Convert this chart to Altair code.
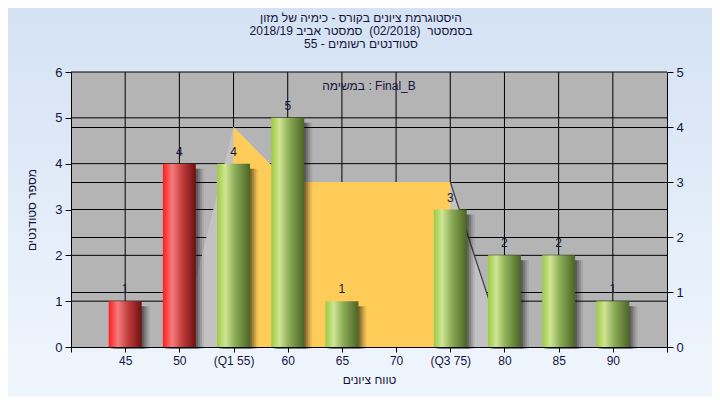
import altair as alt
import pandas as pd

# ---- data ----
grades = [45, 50, 55, 60, 65, 70, 75, 80, 85, 90]
counts = [1, 4, 4, 5, 1, 0, 3, 2, 2, 1]
failing = [True, True, False, False, False, False, False, False, False, False]

tick_values = [40, 45, 50, 55, 60, 65, 70, 75, 80, 85, 90, 95]
tick_labels = ["", "45", "50", "(Q1 55)", "60", "65", "70", "(Q3 75)", "80", "85", "90", ""]

left_ticks = [0, 1, 2, 3, 4, 5, 6]
right_ticks = [0, 1, 2, 3, 4, 5]
left_grid = [1, 2, 3, 4, 5, 6]
right_grid = [1, 2, 3, 4]
vert_grid = [45, 50, 55, 60, 65, 70, 75, 80, 85, 90]

# distribution outline (right axis)
poly_x = [50, 55, 60, 75, 80]
poly_y = [0, 4, 3, 3, 0]
iqr_x = [55, 60, 75]
iqr_y = [4, 3, 3]
tail_x = [75, 80]
tail_y = [3, 0]

NB = "\u00a0"
title_lines = [
    "היסטוגרמת ציונים בקורס - כימיה של מזון",
    f"בסמסטר{NB} (02/2018){NB} סמסטר אביב 2018/19",
    "סטודנטים רשומים - 55",
]
x_title = "טווח ציונים"
y_title = "מספר סטודנטים"
note_text = "במשימה : Final_B"

FONT = "Liberation Sans, DejaVu Sans, sans-serif"
TXT = "#14143c"
W, H = 596, 275
PL, PT, PR, PB = 63, 64, 45, 50

bars = pd.DataFrame({"grade": grades, "count": counts, "fail": failing})
bars = bars[bars["count"] > 0]
one = pd.DataFrame({"a": [0]})

xscale = alt.Scale(domain=[40, 95], nice=False, zero=False, padding=0)
lscale = alt.Scale(domain=[0, 6], nice=False, padding=0)
rscale = alt.Scale(domain=[0, 5], nice=False, padding=0)

label_cond = " : ".join(f"datum.value == {v} ? '{t}'" for v, t in zip(tick_values, tick_labels)) + " : ''"

x_axis = alt.Axis(values=tick_values, labelExpr=label_cond, title=x_title,
                  titleFont=FONT, titleFontSize=12, titleFontWeight="normal", titleColor=TXT,
                  labelFont=FONT, labelFontSize=12, labelColor=TXT, labelPadding=3,
                  tickColor="black", domainColor="black", tickSize=5, grid=False, zindex=1,
                  titlePadding=8, labelFlush=False, labelOverlap=False)
left_axis = alt.Axis(values=left_ticks, title=y_title, orient="left", titleFont=FONT, titleFontSize=12,
                     titleFontWeight="normal", titleColor=TXT, labelFont=FONT, labelFontSize=13,
                     labelColor=TXT, tickColor="black", domainColor="black", tickSize=6, grid=False,
                     zindex=1, titlePadding=16, labelPadding=3)
right_axis = alt.Axis(values=right_ticks, title=None, orient="right", labelFont=FONT, labelFontSize=13,
                      labelColor=TXT, tickColor="black", domainColor="black", tickSize=6, grid=False,
                      zindex=1, labelPadding=3)

bg = alt.Chart(one).mark_rect(fill=alt.Gradient(
    gradient="linear", x1=0, x2=0, y1=0, y2=1,
    stops=[alt.GradientStop(color="#d4e2f4", offset=0), alt.GradientStop(color="#f0f6fd", offset=1)])
).encode(x=alt.value(-PL), x2=alt.value(W + PR), y=alt.value(-PT), y2=alt.value(H + PB))

plot_bg = alt.Chart(one).mark_rect(fill="#b4b4b4").encode(
    x=alt.value(0), x2=alt.value(W), y=alt.value(0), y2=alt.value(H))

hgrid_l = alt.Chart(pd.DataFrame({"v": left_grid})).mark_rule(color="black", strokeWidth=1).encode(
    y=alt.Y("v:Q", scale=lscale, axis=None))
hgrid_r = alt.Chart(pd.DataFrame({"v": right_grid})).mark_rule(color="black", strokeWidth=1,
                                                                yOffset=0.5).encode(
    y=alt.Y("v:Q", scale=rscale, axis=None))
vgrid = alt.Chart(pd.DataFrame({"v": vert_grid})).mark_rule(color="black", strokeWidth=1).encode(
    x=alt.X("v:Q", scale=xscale, axis=x_axis))

poly = alt.Chart(pd.DataFrame({"x": poly_x, "y": poly_y})).mark_area(color="#c2c2c2", opacity=1).encode(
    x=alt.X("x:Q", scale=xscale), y=alt.Y("y:Q", scale=rscale, axis=right_axis))
iqr = alt.Chart(pd.DataFrame({"x": iqr_x, "y": iqr_y})).mark_area(color="#ffcc5a", opacity=1).encode(
    x=alt.X("x:Q", scale=xscale), y=alt.Y("y:Q", scale=rscale, axis=None))
tail = alt.Chart(pd.DataFrame({"x": tail_x, "y": tail_y})).mark_line(color="#3c3c3c", strokeWidth=1.2).encode(
    x=alt.X("x:Q", scale=xscale), y=alt.Y("y:Q", scale=rscale, axis=None))

shadows = []
for off, op in [(2, 0.22), (4, 0.18), (6, 0.13), (8, 0.08)]:
    shadows.append(alt.Chart(bars).mark_bar(width=33, color="black", opacity=op, xOffset=off,
                                            yOffset=5, y2Offset=2).encode(
        x=alt.X("grade:Q", scale=xscale),
        y=alt.Y("count:Q", scale=lscale, axis=None), y2=alt.datum(0)))

green = alt.Gradient(gradient="linear", x1=0, x2=1, y1=0, y2=0, stops=[
    alt.GradientStop(color="#9ccb42", offset=0), alt.GradientStop(color="#cfe594", offset=0.25),
    alt.GradientStop(color="#8aab55", offset=0.55), alt.GradientStop(color="#4b6425", offset=1)])
red = alt.Gradient(gradient="linear", x1=0, x2=1, y1=0, y2=0, stops=[
    alt.GradientStop(color="#ff1c1c", offset=0), alt.GradientStop(color="#f47c7c", offset=0.28),
    alt.GradientStop(color="#c13a3a", offset=0.6), alt.GradientStop(color="#6e1010", offset=1)])

bar_g = alt.Chart(bars).transform_filter("!datum.fail").mark_bar(width=33, fill=green).encode(
    x=alt.X("grade:Q", scale=xscale),
    y=alt.Y("count:Q", scale=lscale, axis=left_axis))
bar_r = alt.Chart(bars).transform_filter("datum.fail").mark_bar(width=33, fill=red).encode(
    x=alt.X("grade:Q", scale=xscale),
    y=alt.Y("count:Q", scale=lscale, axis=None))

labels = alt.Chart(bars).mark_text(font=FONT, fontSize=12, color=TXT, baseline="bottom", dy=-5).encode(
    x=alt.X("grade:Q", scale=xscale),
    y=alt.Y("count:Q", scale=lscale, axis=None), text="count:Q")

note = alt.Chart(one).mark_text(font=FONT, fontSize=12, color=TXT, text=note_text).encode(
    x=alt.value(W / 2), y=alt.value(14))

title_marks = []
for i, line in enumerate(title_lines):
    title_marks.append(alt.Chart(one).mark_text(font=FONT, fontSize=12, color=TXT, text=line,
                                                baseline="middle", align="center").encode(
        x=alt.value(290), y=alt.value(-54 + 13 * i)))

chart = alt.layer(bg, plot_bg, hgrid_l, hgrid_r, vgrid, poly, iqr, tail, *shadows, bar_r, bar_g,
                  labels, note, *title_marks).resolve_scale(y="independent").properties(
    width=W, height=H,
    autosize=alt.AutoSizeParams(type="none"),
    padding={"left": PL, "top": PT, "right": PR, "bottom": PB},
    background="#e4edf8",
).configure_view(stroke=None)

chart.save("out.html", embed_options={"renderer": "svg", "actions": False})
